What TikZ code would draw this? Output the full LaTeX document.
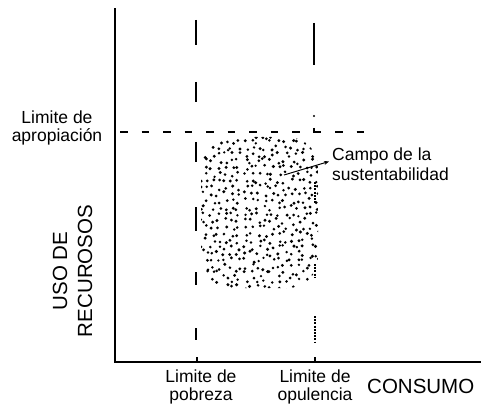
\documentclass[tikz,border=0pt]{standalone}
\usepackage{fontspec}
\setmainfont{Liberation Sans}
\usetikzlibrary{arrows.meta}
\begin{document}
\begin{tikzpicture}[x=1pt,y=-1pt,
  axis/.style={line width=2.8pt,line cap=rect},
  guide/.style={line width=2.2pt},
  dotguide/.style={line width=2.2pt,dash pattern=on 2pt off 1.2pt},
  lbl/.style={inner sep=0pt,align=center,font=\fontsize{17.5}{18.5}\selectfont},
  big/.style={inner sep=0pt,align=center,font=\fontsize{20.5}{25}\selectfont},
  speck/.style={fill=black}]
\useasboundingbox (0,0) rectangle (481,406);
% axes
\coordinate (O) at (115,362);
\coordinate (ytop) at (115,9);
\coordinate (xend) at (481,362);
\draw[axis] (ytop) -- (O) -- (xend);
% ticks
\draw[line width=1.2pt] (197,357) -- (197,362) (315,357) -- (315,362);
% horizontal appropriation limit
\coordinate (h1) at (120,132);
\coordinate (h2) at (376,132);
\draw[guide,dash pattern=on 7.5pt off 14pt] (h1) -- (h2);
% poverty limit segments
\foreach \a/\b in {20/45,82/102,142/162,207/231,272/285,328/340}
  \draw[guide] (196,\a) -- (196,\b);
% opulence limit segments
\draw[guide] (314,23) -- (314,65);
\fill (314,116) circle (1.1pt);
\draw[guide] (314,128) -- (314,133);
\foreach \a/\b in {182/203,264/278,316/343}
  \draw[dotguide] (315,\a) -- (315,\b);
% field of dots
\begin{scope}
  \clip[rounded corners=30pt] (201,137) rectangle (318,288);
  \pgfmathsetseed{4711}
  \foreach \i in {0,...,18}
    \foreach \j in {0,...,23}
      \fill[speck] ({199+\i*6.6+2.8*rand},{135+\j*6.6+2.8*rand}) circle ({1.3pt+0.4pt*rnd});
\end{scope}
% labels
\node[lbl,anchor=north] (apro) at (57,110.5) {Limite de\\apropiación};
\node[lbl,anchor=north] (pob) at (201,369.5) {Limite de\\pobreza};
\node[lbl,anchor=north] (opu) at (315,369.5) {Limite de\\opulencia};
\node[big,anchor=base west] (cons) at (367,393) {CONSUMO};
\node[big,rotate=90] (uso) at (72.5,271) {USO DE\\RECUROSOS};
\node[inner sep=0pt,align=left,anchor=north west,font=\fontsize{17.5}{20.5}\selectfont] (campo) at (332,147.5) {Campo de la\\sustentabilidad};
% arrow
\coordinate (arrs) at (284,175);
\coordinate (arre) at (329,161.5);
\draw[line width=1pt,-{Stealth[length=5pt,width=4pt]}] (arrs) -- (arre);
\end{tikzpicture}
\end{document}
